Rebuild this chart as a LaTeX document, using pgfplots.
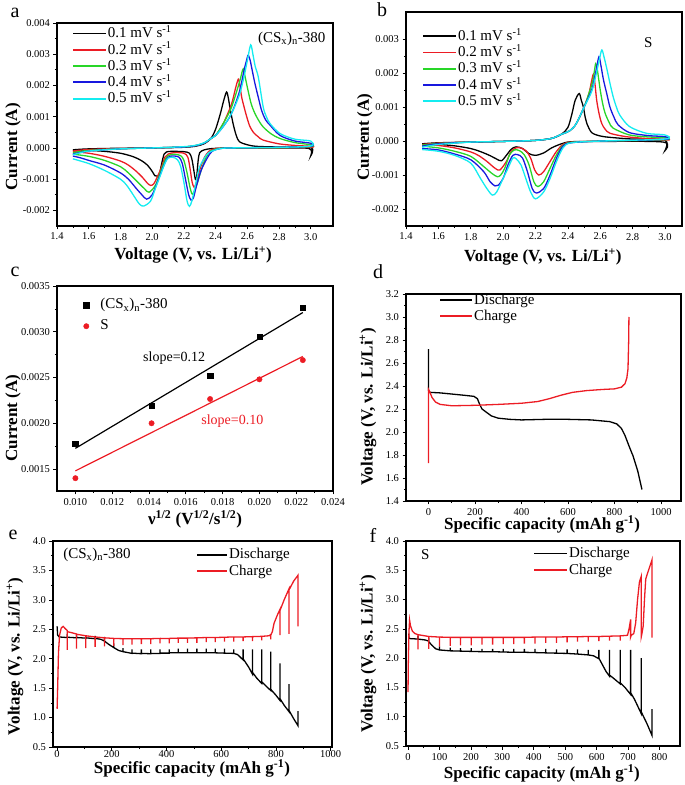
\documentclass[border=0pt]{standalone}
\usepackage{fontspec}
\setmainfont{Liberation Serif}
\usepackage{pgfplots}
\pgfplotsset{compat=1.18}

\definecolor{ored}{RGB}{236,28,36}
\definecolor{ogreen}{RGB}{40,214,40}
\definecolor{oblue}{RGB}{24,24,222}
\definecolor{ocyan}{RGB}{20,236,240}

\newcommand{\lfont}{\fontsize{15}{16}\selectfont}

\pgfplotsset{
  panel/.style={
    scale only axis, anchor=south west,
    axis line style={line width=1.1pt},
    tick align=outside, xtick pos=bottom, ytick pos=left,
    major tick length=3.5pt, minor tick length=2pt,
    tick style={black, line width=0.7pt},
    minor x tick num=1, minor y tick num=1,
    tick label style={font=\fontsize{10.5}{12}\selectfont},
    label style={font=\fontsize{17}{19}\selectfont\bfseries},
    /pgf/number format/assume math mode=true,
    /pgf/number format/1000 sep={},
    scaled x ticks=false, scaled y ticks=false,
    legend cell align=left,
    legend style={draw=none, fill=none, inner sep=0pt, font=\lfont,
      nodes={inner sep=1pt, text height=10.5pt, text depth=3pt},
      row sep=0.8pt, anchor=north west},
  },
  linekey/.style={legend image code/.code={\draw[##1, line width=1.8pt] (0pt,0.5pt) -- (#1,0.5pt);}},
  cv/.style={line width=1.3pt, smooth, tension=0.5},
  gt/.style={line width=1.3pt},
}

\begin{document}
\begin{tikzpicture}
\useasboundingbox (0,0) rectangle (685pt,785pt);

% ---------------- a ----------------
\begin{axis}[panel, at={(57pt,559pt)}, width=276pt, height=203pt,
  xmin=1.4, xmax=3.14, ymin=-0.0025, ymax=0.004,
  xtick={1.4,1.6,1.8,2.0,2.2,2.4,2.6,2.8,3.0},
  ytick={-0.002,-0.001,0,0.001,0.002,0.003,0.004},
  x tick label style={/pgf/number format/.cd, fixed, fixed zerofill, precision=1, /tikz/.cd},
  y tick label style={/pgf/number format/.cd, fixed, fixed zerofill, precision=3, /tikz/.cd},
  xlabel={Voltage (V, vs. Li/Li\textsuperscript{+})},
  ylabel={Current (A)},
  xlabel style={at={(axis description cs:0.493,-0.143)}, anchor=center},
  ylabel style={at={(axis description cs:-0.159,0.39)}, anchor=center},
  legend style={at={(axis description cs:0.054,0.985)}},
  linekey=33pt]
\addplot[cv, black] coordinates {(1.5,-0.00006) (1.6,-0.00003) (1.8,-0.00001) (2.0,0) (2.2,0.00002) (2.28,0.00006) (2.33,0.00014) (2.37,0.0003) (2.4,0.0006) (2.43,0.0011) (2.45,0.0015) (2.469,0.00179) (2.48,0.0016) (2.49,0.0013) (2.51,0.00078) (2.53,0.0004) (2.55,0.0002) (2.6,0.0001) (2.66,0.00005) (2.8,0.00003) (3.0,0.00002) (3.0,-0.00025) (2.99,-0.00002) (2.8,0) (2.5,0) (2.38,-0.00002) (2.33,-0.00006) (2.3,-0.00015) (2.29,-0.0004) (2.28,-0.00095) (2.272,-0.001) (2.262,-0.0007) (2.25,-0.00035) (2.235,-0.00017) (2.2,-0.00012) (2.12,-0.00011) (2.09,-0.00013) (2.075,-0.0002) (2.06,-0.0005) (2.045,-0.00085) (2.03,-0.0009) (2.017,-0.00089) (2.0,-0.00075) (1.97,-0.00055) (1.93,-0.0004) (1.88,-0.00028) (1.8,-0.00017) (1.7,-0.00011) (1.6,-0.00008) (1.5,-0.00007)};
\addlegendentry{0.1 mV s\textsuperscript{-1}}
\addplot[cv, ored] coordinates {(1.5,-0.0001) (1.6,-0.00005) (1.8,-0.00002) (2.0,0) (2.2,0.00003) (2.28,0.00008) (2.33,0.00016) (2.37,0.0003) (2.4,0.0004) (2.45,0.0008) (2.5,0.0014) (2.525,0.0019) (2.543,0.0022) (2.553,0.002) (2.564,0.00163) (2.58,0.0013) (2.596,0.001) (2.615,0.0007) (2.638,0.0005) (2.67,0.00035) (2.7,0.00025) (2.8,0.00013) (2.9,0.00008) (3.0,0.00005) (3.0,0.00002) (2.8,0.00001) (2.5,0) (2.4,-0.00002) (2.36,-0.0001) (2.33,-0.0003) (2.3,-0.0007) (2.28,-0.0011) (2.265,-0.00126) (2.252,-0.0011) (2.24,-0.0007) (2.225,-0.0003) (2.2,-0.00017) (2.14,-0.00015) (2.1,-0.0002) (2.08,-0.0003) (2.06,-0.0006) (2.035,-0.0009) (2.01,-0.00115) (1.99,-0.0012) (1.97,-0.00113) (1.94,-0.00095) (1.9,-0.00075) (1.85,-0.00055) (1.8,-0.00042) (1.7,-0.00027) (1.6,-0.00017) (1.5,-0.00012)};
\addlegendentry{0.2 mV s\textsuperscript{-1}}
\addplot[cv, ogreen] coordinates {(1.5,-0.00015) (1.6,-0.00008) (1.8,-0.00003) (2.0,0) (2.2,0.00003) (2.28,0.00008) (2.33,0.00016) (2.37,0.0003) (2.4,0.0004) (2.45,0.0008) (2.5,0.0013) (2.55,0.0021) (2.565,0.0024) (2.574,0.00253) (2.585,0.0023) (2.606,0.0018) (2.625,0.0014) (2.648,0.0011) (2.675,0.00085) (2.7,0.00067) (2.75,0.00045) (2.806,0.0003) (2.9,0.00017) (3.0,0.0001) (3.0,0.00004) (2.8,0.00001) (2.5,0) (2.42,-0.00002) (2.37,-0.0001) (2.34,-0.0003) (2.31,-0.0007) (2.28,-0.0012) (2.255,-0.00148) (2.24,-0.0013) (2.22,-0.0008) (2.2,-0.0004) (2.18,-0.00025) (2.14,-0.0002) (2.1,-0.00025) (2.08,-0.0004) (2.05,-0.0008) (2.02,-0.0012) (1.98,-0.00142) (1.95,-0.0013) (1.9,-0.00105) (1.85,-0.0008) (1.8,-0.0006) (1.7,-0.0004) (1.6,-0.00027) (1.5,-0.0002)};
\addlegendentry{0.3 mV s\textsuperscript{-1}}
\addplot[cv, oblue] coordinates {(1.5,-0.0002) (1.6,-0.0001) (1.8,-0.00003) (2.0,0) (2.2,0.00003) (2.28,0.00008) (2.33,0.00016) (2.37,0.0003) (2.4,0.0004) (2.45,0.0007) (2.5,0.0011) (2.55,0.0018) (2.58,0.0025) (2.6,0.0029) (2.606,0.00297) (2.618,0.0028) (2.63,0.0025) (2.648,0.00206) (2.67,0.0016) (2.69,0.0012) (2.715,0.0009) (2.743,0.00073) (2.806,0.0004) (2.9,0.00022) (3.0,0.00015) (3.0,0.00005) (2.8,0.00002) (2.5,0) (2.43,-0.00002) (2.38,-0.0001) (2.35,-0.0003) (2.31,-0.0007) (2.28,-0.0012) (2.26,-0.0016) (2.245,-0.00167) (2.23,-0.0015) (2.21,-0.001) (2.19,-0.0005) (2.17,-0.0003) (2.14,-0.00026) (2.1,-0.0003) (2.07,-0.0006) (2.04,-0.001) (2.0,-0.0015) (1.965,-0.00164) (1.935,-0.0015) (1.9,-0.0013) (1.85,-0.001) (1.8,-0.0008) (1.7,-0.00055) (1.6,-0.0004) (1.55,-0.00032) (1.5,-0.00026)};
\addlegendentry{0.4 mV s\textsuperscript{-1}}
\addplot[cv, ocyan] coordinates {(1.5,-0.00022) (1.6,-0.0001) (1.8,-0.00003) (2.0,0) (2.2,0.00004) (2.28,0.00009) (2.33,0.00017) (2.37,0.0003) (2.4,0.0004) (2.45,0.0007) (2.5,0.0011) (2.55,0.0017) (2.58,0.0023) (2.6,0.0028) (2.621,0.0033) (2.635,0.003) (2.65,0.0026) (2.669,0.00227) (2.7,0.00131) (2.72,0.001) (2.743,0.00078) (2.806,0.00046) (2.9,0.00028) (3.0,0.00022) (3.0,0.00006) (2.8,0.00002) (2.5,0) (2.43,-0.00002) (2.39,-0.00008) (2.35,-0.00018) (2.3,-0.0006) (2.27,-0.00125) (2.25,-0.0017) (2.235,-0.00187) (2.22,-0.0017) (2.2,-0.0011) (2.18,-0.0006) (2.16,-0.00038) (2.13,-0.0003) (2.1,-0.00033) (2.08,-0.0005) (2.05,-0.0009) (2.02,-0.0013) (1.99,-0.0017) (1.947,-0.00186) (1.92,-0.0018) (1.88,-0.0015) (1.84,-0.0012) (1.8,-0.001) (1.7,-0.00072) (1.6,-0.0005) (1.5,-0.00035)};
\addlegendentry{0.5 mV s\textsuperscript{-1}}
\node[font=\lfont] at (axis cs:2.88,0.0035) {(CS\textsubscript{x})\textsubscript{n}-380};
\end{axis}

% ---------------- b ----------------
\begin{axis}[panel, at={(406pt,559pt)}, width=276pt, height=214pt,
  xmin=1.4, xmax=3.105, ymin=-0.0025, ymax=0.0038,
  xtick={1.4,1.6,1.8,2.0,2.2,2.4,2.6,2.8,3.0},
  ytick={-0.002,-0.001,0,0.001,0.002,0.003},
  x tick label style={/pgf/number format/.cd, fixed, fixed zerofill, precision=1, /tikz/.cd},
  y tick label style={/pgf/number format/.cd, fixed, fixed zerofill, precision=3, /tikz/.cd},
  xlabel={Voltage (V, vs. Li/Li\textsuperscript{+})},
  ylabel={Current (A)},
  xlabel style={at={(axis description cs:0.496,-0.145)}, anchor=center},
  ylabel style={at={(axis description cs:-0.149,0.416)}, anchor=center},
  legend style={at={(axis description cs:0.058,0.922)}},
  linekey=33pt]
\addplot[cv, black] coordinates {(1.5,-0.00008) (1.6,-0.00005) (1.8,-0.00003) (2.0,-0.00001) (2.2,0.00002) (2.3,0.00008) (2.36,0.0002) (2.4,0.0004) (2.425,0.0008) (2.445,0.0012) (2.47,0.0014) (2.483,0.0012) (2.496,0.001) (2.507,0.0007) (2.517,0.00052) (2.547,0.00025) (2.6,0.00015) (2.66,0.00011) (2.8,0.00006) (3.0,0.00003) (3.0,-0.00028) (2.99,-0.00003) (2.6,-0.00001) (2.42,-0.00002) (2.36,-0.00008) (2.3,-0.0002) (2.25,-0.00035) (2.2,-0.00042) (2.16,-0.00037) (2.12,-0.00022) (2.08,-0.00017) (2.05,-0.00024) (2.02,-0.00042) (1.99,-0.00058) (1.96,-0.00053) (1.92,-0.00043) (1.86,-0.00031) (1.8,-0.00022) (1.7,-0.00014) (1.6,-0.0001) (1.5,-0.00009)};
\addlegendentry{0.1 mV s\textsuperscript{-1}}
\addplot[cv, ored] coordinates {(1.5,-0.0001) (1.6,-0.00006) (1.8,-0.00003) (2.0,-0.00001) (2.2,0.00002) (2.3,0.00008) (2.36,0.0002) (2.41,0.0003) (2.45,0.0005) (2.5,0.001) (2.53,0.0014) (2.548,0.0018) (2.558,0.00197) (2.567,0.0017) (2.578,0.0012) (2.593,0.0008) (2.609,0.00052) (2.63,0.00035) (2.66,0.00023) (2.76,0.00013) (2.9,0.00007) (3.0,0.00005) (3.0,0.00003) (2.6,0) (2.42,-0.00003) (2.37,-0.0001) (2.33,-0.0003) (2.29,-0.0006) (2.25,-0.0009) (2.22,-0.001) (2.195,-0.00085) (2.17,-0.0005) (2.14,-0.00028) (2.1,-0.00019) (2.08,-0.0002) (2.05,-0.0003) (2.02,-0.0006) (1.98,-0.00085) (1.95,-0.0008) (1.9,-0.0006) (1.85,-0.00043) (1.8,-0.00032) (1.7,-0.0002) (1.6,-0.00013) (1.5,-0.0001)};
\addlegendentry{0.2 mV s\textsuperscript{-1}}
\addplot[cv, ogreen] coordinates {(1.5,-0.00012) (1.6,-0.00007) (1.8,-0.00003) (2.0,-0.00001) (2.2,0.00002) (2.3,0.00008) (2.36,0.0002) (2.41,0.0003) (2.45,0.0005) (2.5,0.001) (2.55,0.0017) (2.565,0.0021) (2.572,0.00228) (2.582,0.0021) (2.6,0.0015) (2.615,0.0011) (2.63,0.00082) (2.655,0.00055) (2.68,0.00038) (2.78,0.00018) (2.9,0.00012) (3.0,0.0001) (3.0,0.00004) (2.6,0) (2.42,-0.00004) (2.37,-0.00013) (2.33,-0.0004) (2.29,-0.0008) (2.25,-0.0012) (2.215,-0.00134) (2.19,-0.0012) (2.16,-0.0007) (2.13,-0.0004) (2.1,-0.00028) (2.07,-0.00026) (2.04,-0.0004) (2.01,-0.0008) (1.985,-0.001) (1.964,-0.00105) (1.93,-0.00095) (1.88,-0.00075) (1.8,-0.00045) (1.7,-0.0003) (1.6,-0.0002) (1.5,-0.00015)};
\addlegendentry{0.3 mV s\textsuperscript{-1}}
\addplot[cv, oblue] coordinates {(1.5,-0.00015) (1.6,-0.00008) (1.8,-0.00003) (2.0,-0.00001) (2.2,0.00002) (2.3,0.00008) (2.36,0.0002) (2.41,0.0003) (2.45,0.0005) (2.5,0.001) (2.55,0.00155) (2.575,0.0021) (2.592,0.00248) (2.605,0.0022) (2.62,0.0018) (2.64,0.0014) (2.66,0.001) (2.685,0.0007) (2.71,0.00048) (2.78,0.00025) (2.9,0.00016) (3.0,0.00013) (3.0,0.00005) (2.6,0) (2.42,-0.00005) (2.37,-0.00015) (2.33,-0.0005) (2.29,-0.001) (2.25,-0.0014) (2.205,-0.00153) (2.18,-0.0014) (2.15,-0.0009) (2.12,-0.0005) (2.09,-0.0004) (2.06,-0.00042) (2.03,-0.0007) (2.0,-0.0011) (1.97,-0.0013) (1.95,-0.00132) (1.92,-0.0012) (1.88,-0.0009) (1.8,-0.00055) (1.7,-0.00038) (1.6,-0.00026) (1.5,-0.00022)};
\addlegendentry{0.4 mV s\textsuperscript{-1}}
\addplot[cv, ocyan] coordinates {(1.5,-0.00018) (1.6,-0.0001) (1.8,-0.00003) (2.0,-0.00001) (2.2,0.00002) (2.3,0.00008) (2.36,0.0002) (2.41,0.0003) (2.45,0.0005) (2.5,0.001) (2.55,0.0015) (2.59,0.0023) (2.609,0.00268) (2.622,0.0025) (2.64,0.00214) (2.66,0.0017) (2.68,0.0013) (2.7,0.001) (2.72,0.00077) (2.78,0.00043) (2.885,0.00023) (3.0,0.00018) (3.0,0.00006) (2.6,0) (2.42,-0.00005) (2.37,-0.0002) (2.33,-0.0006) (2.29,-0.0011) (2.25,-0.0015) (2.2,-0.0017) (2.17,-0.0015) (2.14,-0.0011) (2.11,-0.0007) (2.08,-0.00052) (2.06,-0.0005) (2.03,-0.0008) (2.0,-0.0011) (1.96,-0.0015) (1.933,-0.00159) (1.9,-0.0014) (1.86,-0.0011) (1.8,-0.00065) (1.7,-0.00042) (1.6,-0.0003) (1.5,-0.00025)};
\addlegendentry{0.5 mV s\textsuperscript{-1}}
\node[font=\lfont] at (axis cs:2.896,0.00291) {S};
\end{axis}

% ---------------- c ----------------
\begin{axis}[panel, at={(57pt,294pt)}, width=276pt, height=205pt,
  xmin=0.009, xmax=0.024, ymin=0.00126, ymax=0.0035,
  xtick={0.010,0.012,0.014,0.016,0.018,0.020,0.022,0.024},
  ytick={0.0015,0.0020,0.0025,0.0030,0.0035},
  x tick label style={/pgf/number format/.cd, fixed, fixed zerofill, precision=3, /tikz/.cd},
  y tick label style={/pgf/number format/.cd, fixed, fixed zerofill, precision=4, /tikz/.cd},
  xlabel={ν\textsuperscript{1/2} (V\textsuperscript{1/2}/s\textsuperscript{1/2})},
  ylabel={Current (A)},
  xlabel style={at={(axis description cs:0.5,-0.14)}, anchor=center},
  ylabel style={at={(axis description cs:-0.159,0.356)}, anchor=center},
  legend style={at={(axis description cs:0.062,0.945)}, row sep=5.5pt},
  legend image code/.code={\path[draw=none,fill=none] (0pt,-3pt) rectangle (25pt,3pt); \draw[#1] plot[only marks] coordinates {(12pt,0pt)};}]
\addplot[only marks, mark=square*, mark size=2.7pt, black] coordinates {(0.01,0.00178) (0.01414,0.00219) (0.01732,0.00252) (0.02,0.002946) (0.02236,0.003263)};
\addlegendentry{(CS\textsubscript{x})\textsubscript{n}-380}
\addplot[only marks, mark=*, mark size=2.7pt, ored] coordinates {(0.01,0.0014) (0.01414,0.002) (0.01732,0.002265) (0.02,0.00248) (0.02236,0.00269)};
\addlegendentry{S}
\addplot[black, line width=1.2pt, forget plot] coordinates {(0.01,0.001726) (0.02236,0.00321)};
\addplot[ored, line width=1.2pt, forget plot] coordinates {(0.01,0.00148) (0.02236,0.00273)};
\node[font=\fontsize{14}{15}\selectfont] at (axis cs:0.01537,0.00271) {slope=0.12};
\node[font=\fontsize{14}{15}\selectfont, text=ored] at (axis cs:0.01853,0.00202) {slope=0.10};
\end{axis}

% ---------------- d ----------------
\begin{axis}[panel, at={(406pt,284pt)}, width=275pt, height=207pt,
  xmin=-97, xmax=1086, ymin=1.4, ymax=3.2,
  xtick={0,200,400,600,800,1000},
  ytick={1.4,1.6,1.8,2.0,2.2,2.4,2.6,2.8,3.0,3.2},
  y tick label style={/pgf/number format/.cd, fixed, fixed zerofill, precision=1, /tikz/.cd},
  xlabel={Specific capacity (mAh g\textsuperscript{-1})},
  ylabel={Voltage (V, vs. Li/Li\textsuperscript{+})},
  xlabel style={at={(axis description cs:0.495,-0.112)}, anchor=center},
  ylabel style={at={(axis description cs:-0.138,0.454)}, anchor=center},
  legend style={at={(axis description cs:0.12,1.008)}, row sep=0.5pt},
  linekey=32pt]
\addplot[gt, black] coordinates {(0,2.72) (0,2.36) (5,2.345) (50,2.34) (100,2.33) (150,2.32) (195,2.31) (210,2.29) (220,2.24) (230,2.2) (250,2.17) (270,2.14) (300,2.12) (350,2.11) (400,2.105) (500,2.11) (600,2.11) (700,2.105) (780,2.09) (810,2.07) (830,2.03) (845,1.97) (862,1.88) (880,1.79) (900,1.66) (918,1.5)};
\addlegendentry{Discharge}
\addplot[gt, ored] coordinates {(0,1.73) (0,2.37) (5,2.35) (15,2.3) (30,2.26) (50,2.24) (100,2.228) (200,2.232) (300,2.24) (400,2.25) (470,2.265) (520,2.29) (570,2.32) (620,2.345) (680,2.36) (750,2.37) (800,2.375) (830,2.39) (845,2.42) (853,2.47) (858,2.55) (861,2.8) (862,3.0)};
\addlegendentry{Charge}
\end{axis}

% ---------------- e ----------------
\begin{axis}[panel, at={(53pt,38pt)}, width=279pt, height=206pt,
  xmin=-15, xmax=1005, ymin=0.5, ymax=4.0,
  xtick={0,200,400,600,800,1000},
  ytick={0.5,1.0,1.5,2.0,2.5,3.0,3.5,4.0},
  x tick label style={yshift=3.5pt},
  y tick label style={/pgf/number format/.cd, fixed, fixed zerofill, precision=1, /tikz/.cd},
  xlabel={Specific capacity (mAh g\textsuperscript{-1})},
  ylabel={Voltage (V, vs. Li/Li\textsuperscript{+})},
  xlabel style={at={(axis description cs:0.498,-0.105)}, anchor=center},
  ylabel style={at={(axis description cs:-0.136,0.44)}, anchor=center},
  legend style={at={(axis description cs:0.513,0.97)}, row sep=1pt},
  linekey=30pt]
\addplot[gt, black] coordinates {(0,2.55) (2,2.40) (8,2.37) (20,2.365)
 (37,2.36) (37,2.42) (37,2.365) (71,2.355) (71,2.41) (71,2.36)
 (105,2.35) (105,2.40) (105,2.355) (139,2.34) (139,2.39) (139,2.345)
 (160,2.33) (173,2.30) (173,2.37) (173,2.30) (190,2.24) (207,2.19) (207,2.26) (207,2.19)
 (225,2.14) (241,2.12) (241,2.18) (241,2.12) (274,2.09) (274,2.16) (274,2.095)
 (308,2.085) (308,2.16) (308,2.09) (342,2.085) (342,2.16) (342,2.09)
 (376,2.09) (376,2.16) (376,2.095) (410,2.095) (410,2.16) (410,2.10)
 (443,2.10) (443,2.17) (443,2.10) (477,2.10) (477,2.17) (477,2.10)
 (511,2.10) (511,2.17) (511,2.10) (545,2.10) (545,2.17) (545,2.10)
 (578,2.10) (578,2.17) (578,2.10) (612,2.095) (612,2.17) (612,2.095)
 (646,2.09) (646,2.16) (646,2.09) (660,2.07) (680,1.98) (680,2.16) (680,2.0)
 (700,1.86) (714,1.74) (714,2.16) (714,1.77) (730,1.67) (748,1.58) (748,2.16) (748,1.61)
 (765,1.53) (781,1.46) (781,2.12) (781,1.48) (800,1.38) (815,1.29) (815,1.92) (815,1.32)
 (830,1.21) (848,1.10) (848,1.57) (848,1.12) (865,0.98) (881,0.86) (881,1.11)};
\addlegendentry{Discharge}
\addplot[gt, ored] coordinates {(0,1.15) (2,1.5) (5,2.1) (9,2.4) (15,2.52) (22,2.55) (30,2.51)
 (37,2.48) (37,2.15) (37,2.46) (55,2.44) (71,2.42) (71,2.17) (71,2.415)
 (105,2.39) (105,2.18) (105,2.39) (139,2.37) (139,2.2) (139,2.37)
 (173,2.355) (173,2.21) (173,2.355) (207,2.345) (207,2.22) (207,2.345)
 (241,2.34) (241,2.23) (241,2.34) (274,2.34) (274,2.24) (274,2.34)
 (308,2.34) (308,2.25) (308,2.34) (342,2.34) (342,2.25) (342,2.34)
 (376,2.345) (376,2.26) (376,2.345) (410,2.345) (410,2.26) (410,2.345)
 (443,2.35) (443,2.27) (443,2.35) (477,2.35) (477,2.27) (477,2.35)
 (511,2.355) (511,2.27) (511,2.355) (545,2.36) (545,2.28) (545,2.36)
 (578,2.36) (578,2.28) (578,2.36) (612,2.365) (612,2.29) (612,2.365)
 (646,2.37) (646,2.29) (646,2.37) (680,2.37) (680,2.3) (680,2.37)
 (714,2.375) (714,2.3) (714,2.375) (748,2.38) (748,2.31) (748,2.38)
 (775,2.39) (781,2.41) (781,2.33) (781,2.4) (787,2.46) (793,2.6) (805,2.74)
 (815,2.84) (815,2.40) (815,2.82) (830,3.0) (848,3.19) (848,2.42) (848,3.17)
 (865,3.32) (881,3.42) (881,2.55)};
\addlegendentry{Charge}
\node[font=\lfont] at (axis cs:146,3.76) {(CS\textsubscript{x})\textsubscript{n}-380};
\end{axis}

% ---------------- f ----------------
\begin{axis}[panel, at={(406pt,39pt)}, width=274pt, height=205pt,
  xmin=-6.4, xmax=865, ymin=0.5, ymax=4.0,
  xtick={0,100,200,300,400,500,600,700,800},
  ytick={0.5,1.0,1.5,2.0,2.5,3.0,3.5,4.0},
  y tick label style={/pgf/number format/.cd, fixed, fixed zerofill, precision=1, /tikz/.cd},
  xlabel={Specific capacity (mAh g\textsuperscript{-1})},
  ylabel={Voltage (V, vs. Li/Li\textsuperscript{+})},
  xlabel style={at={(axis description cs:0.496,-0.135)}, anchor=center},
  ylabel style={at={(axis description cs:-0.139,0.449)}, anchor=center},
  legend style={at={(axis description cs:0.464,0.975)}, row sep=1pt},
  linekey=33pt]
\addplot[gt, black] coordinates {(2,2.42) (3,2.34) (10,2.33) (20,2.33)
 (32,2.325) (32,2.38) (32,2.325) (55,2.31) (66,2.29) (66,2.35) (66,2.28)
 (76,2.22) (88,2.16) (100,2.14) (100,2.2) (100,2.14) (134,2.125) (134,2.18) (134,2.125)
 (167,2.12) (167,2.17) (167,2.12) (201,2.115) (201,2.17) (201,2.115)
 (235,2.11) (235,2.16) (235,2.11) (269,2.11) (269,2.16) (269,2.11)
 (303,2.105) (303,2.16) (303,2.105) (336,2.1) (336,2.16) (336,2.1)
 (370,2.1) (370,2.16) (370,2.1) (404,2.095) (404,2.16) (404,2.095)
 (438,2.09) (438,2.16) (438,2.09) (472,2.085) (472,2.15) (472,2.085)
 (506,2.08) (506,2.15) (506,2.08) (539,2.07) (539,2.15) (539,2.07)
 (573,2.055) (573,2.14) (573,2.055) (590,2.04) (607,1.99) (607,2.14) (607,2.0)
 (620,1.87) (630,1.77) (641,1.69) (641,2.14) (641,1.71) (655,1.65) (675,1.56) (675,2.14) (675,1.58)
 (690,1.5) (708,1.38) (708,2.14) (708,1.41) (720,1.3) (742,1.05) (742,2.0) (742,1.08)
 (760,0.88) (776,0.68) (776,1.13)};
\addlegendentry{Discharge}
\addplot[gt, ored] coordinates {(0,1.42) (1,1.9) (3,2.45) (5,2.65) (8,2.55) (14,2.46) (22,2.42)
 (32,2.4) (32,2.15) (32,2.4) (66,2.37) (66,2.16) (66,2.37) (100,2.36) (100,2.2) (100,2.36)
 (134,2.355) (134,2.21) (134,2.355) (167,2.355) (167,2.22) (167,2.355)
 (201,2.355) (201,2.22) (201,2.355) (235,2.355) (235,2.23) (235,2.355)
 (269,2.355) (269,2.23) (269,2.355) (303,2.355) (303,2.24) (303,2.355)
 (336,2.355) (336,2.24) (336,2.355) (370,2.355) (370,2.25) (370,2.355)
 (404,2.36) (404,2.25) (404,2.36) (438,2.36) (438,2.26) (438,2.36)
 (472,2.36) (472,2.26) (472,2.36) (506,2.365) (506,2.27) (506,2.365)
 (539,2.365) (539,2.28) (539,2.365) (573,2.37) (573,2.28) (573,2.37)
 (607,2.37) (607,2.29) (607,2.37) (641,2.375) (641,2.3) (641,2.375)
 (675,2.38) (675,2.3) (675,2.38) (698,2.39) (703,2.5) (708,2.66) (708,2.36) (710,2.39)
 (718,2.42) (724,2.6) (730,3.0) (736,3.3) (742,3.4) (742,2.37) (744,2.42)
 (748,2.55) (752,3.0) (756,3.35) (760,3.42) (768,3.55) (776,3.68) (776,2.35)};
\addlegendentry{Charge}
\node[font=\lfont] at (axis cs:55,3.76) {S};
\end{axis}

\node[font=\fontsize{20}{22}\selectfont] at (15pt,772pt) {a};
\node[font=\fontsize{20}{22}\selectfont] at (382pt,775pt) {b};
\node[font=\fontsize{20}{22}\selectfont] at (15pt,513pt) {c};
\node[font=\fontsize{20}{22}\selectfont] at (378pt,513pt) {d};
\node[font=\fontsize{20}{22}\selectfont] at (13pt,250pt) {e};
\node[font=\fontsize{20}{22}\selectfont] at (373pt,250pt) {f};
\end{tikzpicture}
\end{document}
